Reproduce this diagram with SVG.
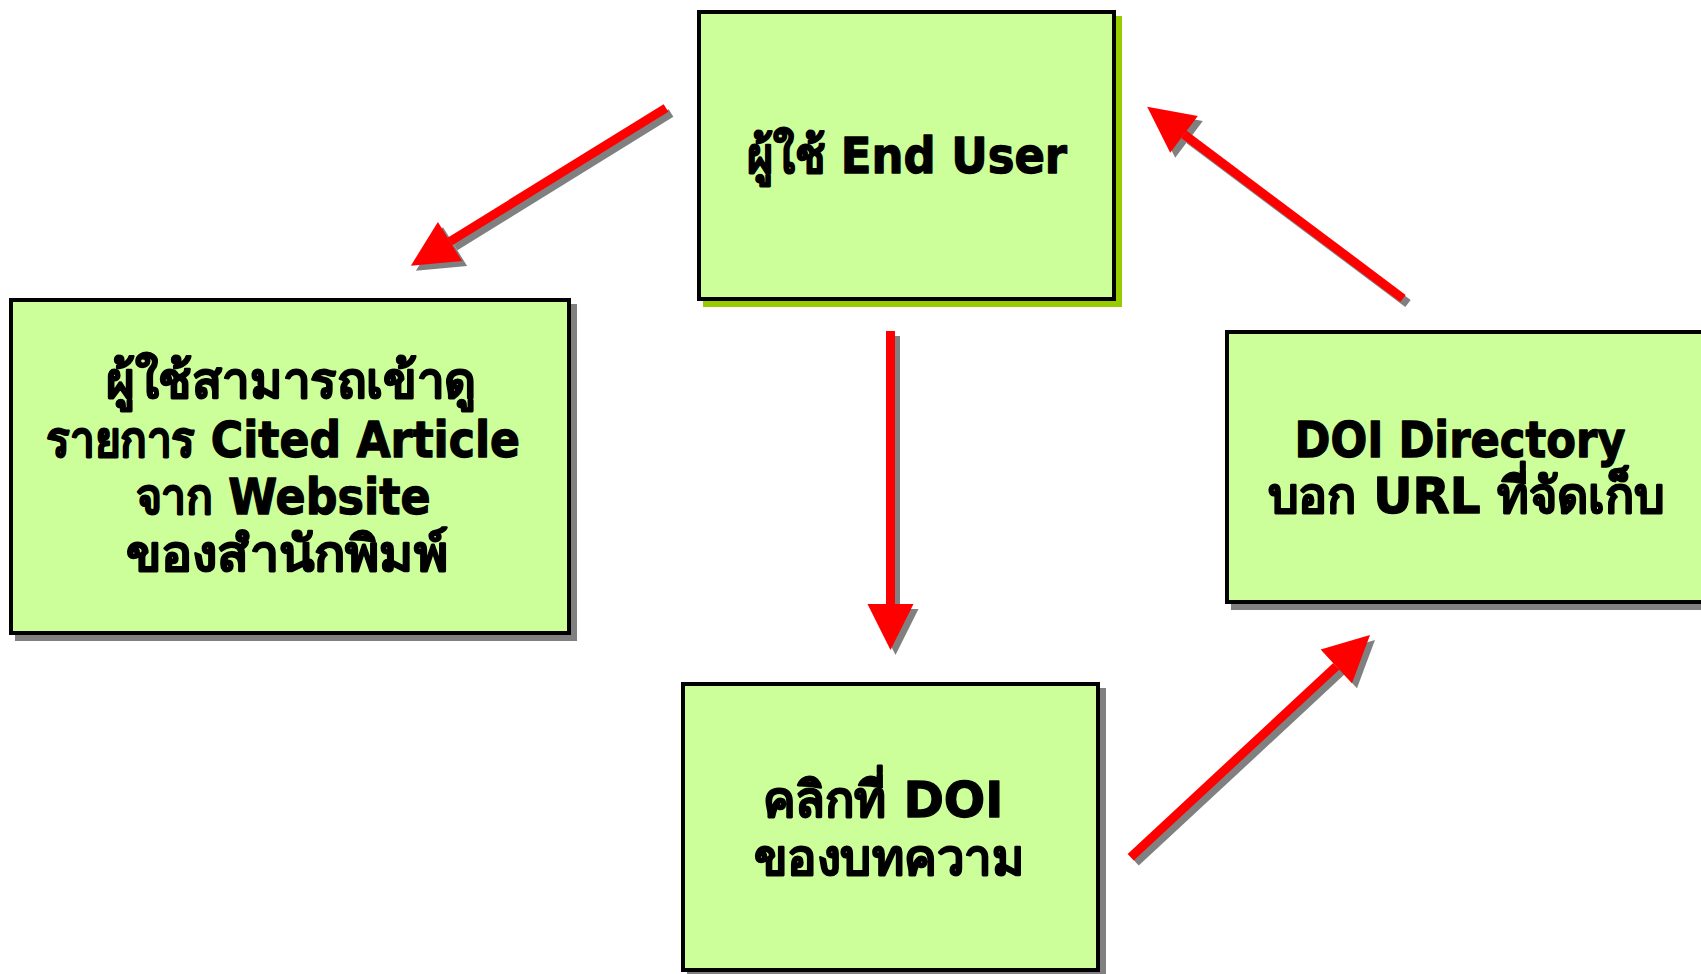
<svg xmlns="http://www.w3.org/2000/svg" width="1701" height="974" viewBox="0 0 1701 974">
<style>
.box{fill:#ccff99;stroke:#000;stroke-width:4}
.sh{fill:#808080}
.t{font-family:"DejaVu Sans","Noto Sans",sans-serif;font-weight:bold;font-size:50px;fill:#000;text-anchor:middle;stroke:#000;stroke-width:1.3px;stroke-linejoin:round}
.shaft{stroke:#ff0000;stroke-width:9;fill:none}
.shaftS{stroke:#808080;stroke-width:9;fill:none}
</style>
<defs>
<marker id="hR" markerUnits="userSpaceOnUse" markerWidth="46" markerHeight="46" refX="0" refY="23" orient="auto" overflow="visible"><path d="M0,0 L46,23 L0,46 Z" fill="#ff0000"/></marker>
<marker id="hG" markerUnits="userSpaceOnUse" markerWidth="46" markerHeight="46" refX="0" refY="23" orient="auto" overflow="visible"><path d="M0,0 L46,23 L0,46 Z" fill="#808080"/></marker>
</defs>
<rect width="1701" height="974" fill="#fff"/>
<g id="node-end-user">
<rect x="703" y="16" width="419" height="291" fill="#99cc00"/>
<rect class="box" x="699" y="12" width="415" height="287"/>
<text class="t" x="907" y="173" textLength="320" lengthAdjust="spacingAndGlyphs">ผู้ใช้ End User</text>
</g>
<g id="node-cited-article">
<rect class="sh" x="15" y="304" width="562" height="337"/>
<rect class="box" x="11" y="300" width="558" height="333"/>
<text class="t" x="291" y="398" textLength="370" lengthAdjust="spacingAndGlyphs">ผู้ใช้สามารถเข้าดู</text>
<text class="t" x="283" y="457" textLength="474" lengthAdjust="spacingAndGlyphs">รายการ Cited Article</text>
<text class="t" x="283" y="514" textLength="295" lengthAdjust="spacingAndGlyphs">จาก Website</text>
<text class="t" x="287" y="571" textLength="322" lengthAdjust="spacingAndGlyphs">ของสำนักพิมพ์</text>
</g>
<g id="node-doi-directory">
<rect class="sh" x="1231" y="336" width="600" height="274"/>
<rect class="box" x="1227" y="332" width="600" height="270"/>
<text class="t" x="1460" y="457" textLength="331" lengthAdjust="spacingAndGlyphs">DOI Directory</text>
<text class="t" x="1466" y="513" textLength="397" lengthAdjust="spacingAndGlyphs">บอก URL ที่จัดเก็บ</text>
</g>
<g id="node-click-doi">
<rect class="sh" x="687" y="688" width="419" height="290"/>
<rect class="box" x="683" y="684" width="415" height="286"/>
<text class="t" x="883" y="817" textLength="241" lengthAdjust="spacingAndGlyphs">คลิกที่ DOI</text>
<text class="t" x="889" y="875" textLength="270" lengthAdjust="spacingAndGlyphs">ของบทความ</text>
</g>
<g id="connectors">
<g transform="translate(5,5)">
<line class="shaftS" x1="666" y1="108" x2="450" y2="241.5" marker-end="url(#hG)"/>
<line class="shaftS" x1="890.5" y1="331" x2="890.5" y2="604" marker-end="url(#hG)"/>
<line class="shaftS" x1="1403" y1="298.5" x2="1184" y2="134.3" marker-end="url(#hG)"/>
<line class="shaftS" x1="1130.7" y1="857.3" x2="1336.3" y2="666.3" marker-end="url(#hG)"/>
</g>
<line class="shaft" x1="666" y1="108" x2="450" y2="241.5" marker-end="url(#hR)"/>
<line class="shaft" x1="890.5" y1="331" x2="890.5" y2="604" marker-end="url(#hR)"/>
<line class="shaft" x1="1403" y1="298.5" x2="1184" y2="134.3" marker-end="url(#hR)"/>
<line class="shaft" x1="1130.7" y1="857.3" x2="1336.3" y2="666.3" marker-end="url(#hR)"/>
</g>
</svg>
